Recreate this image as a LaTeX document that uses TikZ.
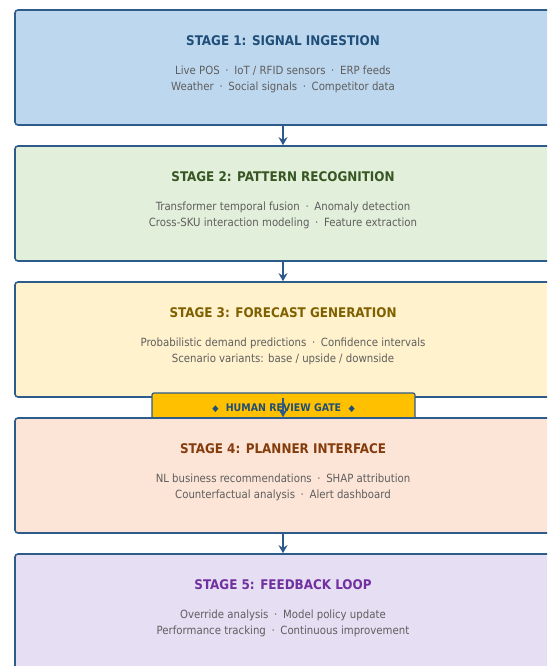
\documentclass[tikz,border=0pt]{standalone}
\usepackage{fontspec}
\setmainfont{DejaVu Sans Condensed}
\usepackage{xcolor}
\usetikzlibrary{arrows.meta,positioning}
\definecolor{edgeblue}{HTML}{2E5C8A}
\definecolor{bodygray}{HTML}{5E5E5E}
\definecolor{fillone}{HTML}{BDD7EE}
\definecolor{filltwo}{HTML}{E2EFDA}
\definecolor{fillthree}{HTML}{FFF2CC}
\definecolor{fillfour}{HTML}{FCE4D6}
\definecolor{fillfive}{HTML}{E6DEF3}
\definecolor{titleone}{HTML}{1F4E79}
\definecolor{titletwo}{HTML}{375623}
\definecolor{titlethree}{HTML}{7F6000}
\definecolor{titlefour}{HTML}{843C0C}
\definecolor{titlefive}{HTML}{7030A0}
\definecolor{gatefill}{HTML}{FFC000}
\newcommand{\dotsep}{\hspace{0.5em}·\hspace{0.5em}}

\tikzset{
  stagebox/.style={draw=edgeblue, line width=1.6pt, rounded corners=3pt,
    minimum width=536pt, minimum height=115pt, inner sep=0pt},
  stagetitle/.style={font=\bfseries\fontsize{13.3}{16}\selectfont},
  stagetext/.style={font=\fontsize{11.3}{16}\selectfont, text=bodygray, align=center},
  gatebox/.style={draw=edgeblue, line width=1.2pt, fill=gatefill, rounded corners=2pt,
    minimum width=263pt, minimum height=30pt, inner sep=0pt,
    font=\bfseries\fontsize{10.5}{12}\selectfont, text=titleone},
  flow/.style={-{Stealth[length=8pt,width=9pt]}, draw=edgeblue, line width=2pt}
}

\begin{document}
\begin{tikzpicture}[x=1pt,y=-1pt]
\clip (0,0) rectangle (547,666);

% Stage 1 - signal ingestion
\node[stagebox, fill=fillone] (s1) at (283,67.5) {};
\node[stagetitle, text=titleone] (t1) at ([yshift=-31.5pt]s1.north) {STAGE 1: SIGNAL INGESTION};
\node[stagetext] (d1) at ([yshift=-70.5pt]s1.north)
  {Live POS\dotsep IoT / RFID sensors\dotsep ERP feeds\\Weather\dotsep Social signals\dotsep Competitor data};

% Stage 2 - pattern recognition
\node[stagebox, fill=filltwo] (s2) at (283,203.5) {};
\node[stagetitle, text=titletwo] (t2) at ([yshift=-31.5pt]s2.north) {STAGE 2: PATTERN RECOGNITION};
\node[stagetext] (d2) at ([yshift=-70.5pt]s2.north)
  {Transformer temporal fusion\dotsep Anomaly detection\\Cross-SKU interaction modeling\dotsep Feature extraction};

% Stage 3 - forecast generation
\node[stagebox, fill=fillthree] (s3) at (283,339.5) {};
\node[stagetitle, text=titlethree] (t3) at ([yshift=-31.5pt]s3.north) {STAGE 3: FORECAST GENERATION};
\node[stagetext] (d3) at ([yshift=-70.5pt]s3.north)
  {Probabilistic demand predictions\dotsep Confidence intervals\\Scenario variants: base / upside / downside};

% Review gate sits between stage 3 and 4
\node[gatebox] (gate) at (283.5,408) {{\small◆}\hspace{0.7em}HUMAN REVIEW GATE\hspace{0.7em}{\small◆}};

% Stage 4 - planner interface
\node[stagebox, fill=fillfour] (s4) at (283,475.5) {};
\node[stagetitle, text=titlefour] (t4) at ([yshift=-31.5pt]s4.north) {STAGE 4: PLANNER INTERFACE};
\node[stagetext] (d4) at ([yshift=-70.5pt]s4.north)
  {NL business recommendations\dotsep SHAP attribution\\Counterfactual analysis\dotsep Alert dashboard};

% Stage 5 - feedback loop
\node[stagebox, fill=fillfive] (s5) at (283,611.5) {};
\node[stagetitle, text=titlefive] (t5) at ([yshift=-31.5pt]s5.north) {STAGE 5: FEEDBACK LOOP};
\node[stagetext] (d5) at ([yshift=-70.5pt]s5.north)
  {Override analysis\dotsep Model policy update\\Performance tracking\dotsep Continuous improvement};

% Flow arrows
\draw[flow] (s1.south) -- (s2.north);
\draw[flow] (s2.south) -- (s3.north);
\draw[flow] (s3.south) -- (s4.north);
\draw[flow] (s4.south) -- (s5.north);
\end{tikzpicture}
\end{document}
